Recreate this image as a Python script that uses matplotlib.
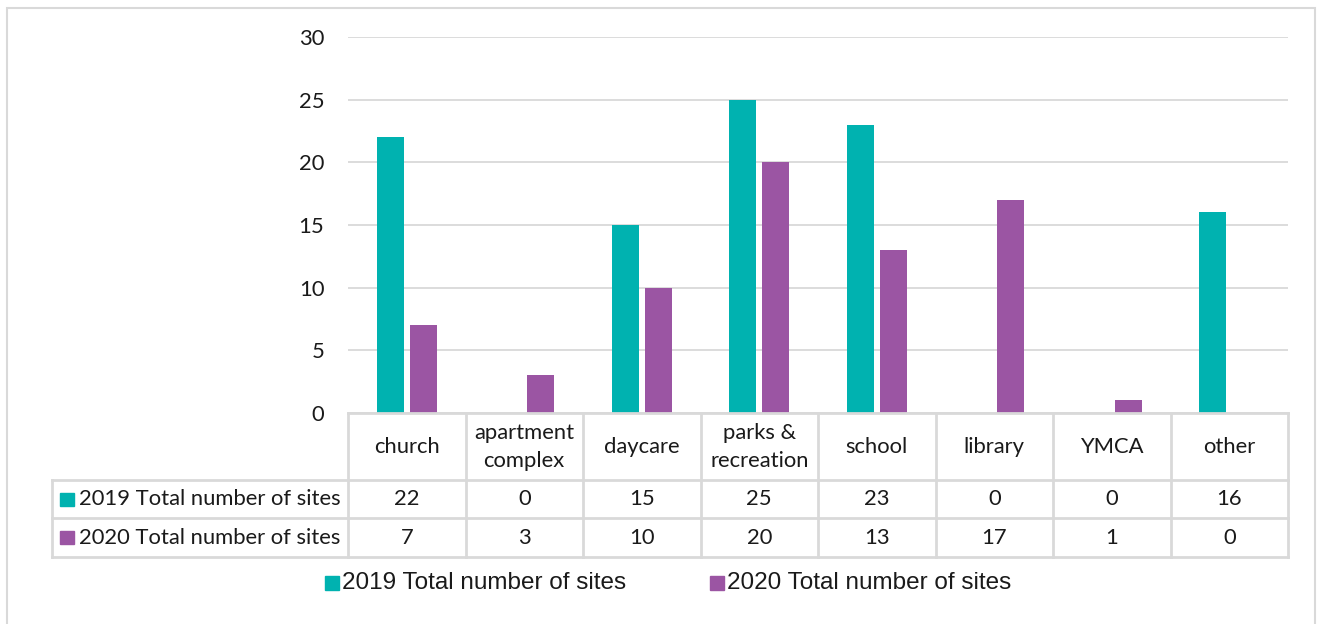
import matplotlib.pyplot as plt
from matplotlib.patches import Rectangle

categories = ["church", "apartment\ncomplex", "daycare", "parks &\nrecreation",
              "school", "library", "YMCA", "other"]
sites_2019 = [22, 0, 15, 25, 23, 0, 0, 16]
sites_2020 = [7, 3, 10, 20, 13, 17, 1, 0]
series_names = ["2019 Total number of sites", "2020 Total number of sites"]
y_ticks = [0, 5, 10, 15, 20, 25, 30]

TEAL = "#00B2B0"
PURPLE = "#9B55A3"
GRID = "#D9D9D9"
TXT = "#1a1a1a"

W, H = 1317, 624
FS = 15.8


def main():
    fig = plt.figure(figsize=(W / 100, H / 100), dpi=100)
    # axes placed in pixel terms of the reference
    ax = fig.add_axes([348 / W, 1 - 413 / H, 940 / W, 376 / H])

    x = list(range(len(categories)))
    off, bw = 0.14, 0.23
    ax.bar([i - off for i in x], sites_2019, width=bw, color=TEAL, zorder=3)
    ax.bar([i + off for i in x], sites_2020, width=bw, color=PURPLE, zorder=3)

    ax.set_xlim(-0.5, len(categories) - 0.5)
    ax.set_ylim(0, 30)
    ax.set_yticks(y_ticks)
    ax.set_xticks([])
    ax.grid(axis="y", color=GRID, linewidth=1.3, zorder=0)
    for s in ax.spines.values():
        s.set_visible(False)
    ax.tick_params(axis="y", length=0, pad=17, labelsize=FS, labelcolor=TXT)
    for lab in ax.get_yticklabels():
        lab.set_family("Lato")

    # data table under the axis (x in data units, y in axes fraction)
    tr = ax.get_xaxis_transform()
    px = 376.0

    def yf(ypx):
        return (413 - ypx) / px

    left = -0.5 - (348 - 52) / 117.5
    right = len(categories) - 0.5
    lk = dict(color=GRID, linewidth=2, transform=tr, clip_on=False, zorder=4)
    ax.plot([-0.5, right], [yf(413)] * 2, **lk)
    for ypx in (480, 518, 557):
        ax.plot([left, right], [yf(ypx)] * 2, **lk)
    for b in range(len(categories) + 1):
        ax.plot([b - 0.5, b - 0.5], [yf(413), yf(557)], **lk)
    ax.plot([left, left], [yf(480), yf(557)], **lk)

    tk = dict(transform=tr, ha="center", va="center", fontsize=FS,
              family="Lato", color=TXT, clip_on=False)
    for i, c in enumerate(categories):
        ax.text(i, yf(447), c, linespacing=1.45, **tk)
        ax.text(i, yf(499), str(sites_2019[i]), **tk)
        ax.text(i, yf(537.5), str(sites_2020[i]), **tk)

    sq = (13.5 / 117.5)
    for ypx, col, name in ((499, TEAL, series_names[0]),
                           (537.5, PURPLE, series_names[1])):
        x0 = left + (60 - 52) / 117.5
        ax.add_patch(Rectangle((x0, yf(ypx) - 6.5 / px), sq, 13 / px,
                               color=col, transform=tr, clip_on=False))
        ax.text(left + (79 - 52) / 117.5, yf(ypx), name, transform=tr,
                ha="left", va="center", fontsize=FS, family="Lato",
                color=TXT, clip_on=False)

    # bottom legend
    for sx, col, name in ((325, TEAL, series_names[0]),
                          (710, PURPLE, series_names[1])):
        fig.patches.append(Rectangle((sx / W, 1 - 590 / H), 14 / W, 14 / H,
                                     color=col, transform=fig.transFigure))
        fig.text((sx + 17) / W, 1 - 583 / H, name, ha="left", va="center",
                 fontsize=17.5, family="Liberation Sans", color=TXT)

    # chart frame
    fig.patches.append(Rectangle((7 / W, -0.05), 1308 / W, 1.05 - 8 / H,
                                 fill=False, edgecolor=GRID, linewidth=1.5,
                                 transform=fig.transFigure))

    fig.savefig("out.png", dpi=100)


if __name__ == "__main__":
    main()
